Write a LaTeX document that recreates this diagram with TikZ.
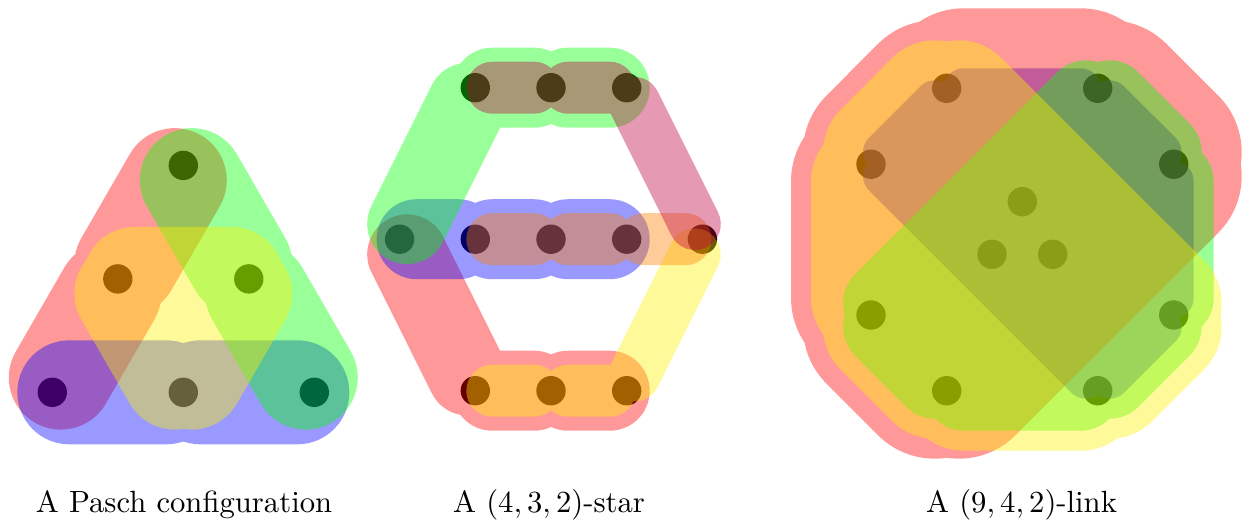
\documentclass[tikz,border=0pt]{standalone}
\usetikzlibrary{calc}
\begin{document}
\begin{tikzpicture}[x=0.326pt,y=-0.326pt,
  dot/.style={circle,fill=black,inner sep=0pt,minimum size=9.58pt},
  full/.style={opacity=1},
  seg/.style={line width={#1*0.652pt},line cap=round,shorten <=5.54pt,shorten >=5.54pt,opacity=1},
  hedge/.style={transparency group,opacity=0.4},
  lab/.style={anchor=base,inner sep=0pt,font=\fontsize{10}{12}\selectfont}]
\useasboundingbox (0,0) rectangle (1252,522);

% ---------- Pasch configuration: vertices ----------
\node[dot] (pT)  at (183.3,165.4) {};
\node[dot] (pML) at (117.8,278.9) {};
\node[dot] (pMR) at (248.8,278.9) {};
\node[dot] (pBL) at (52.3,392.3) {};
\node[dot] (pBM) at (183.3,392.3) {};
\node[dot] (pBR) at (314.3,392.3) {};

% ---------- (4,3,2)-star: vertices ----------
\node[dot] (sT1) at (475.3,87.7) {};
\node[dot] (sT2) at (551.0,87.7) {};
\node[dot] (sT3) at (626.7,87.7) {};
\node[dot] (sM0) at (399.6,239.2) {};
\node[dot] (sM1) at (475.3,239.2) {};
\node[dot] (sM2) at (551.0,239.2) {};
\node[dot] (sM3) at (626.7,239.2) {};
\node[dot] (sM4) at (702.4,239.2) {};
\node[dot] (sB1) at (475.3,390.7) {};
\node[dot] (sB2) at (551.0,390.7) {};
\node[dot] (sB3) at (626.7,390.7) {};

% ---------- (9,4,2)-link: vertices ----------
\node[dot] (lA) at (946.7,88.3) {};
\node[dot] (lB) at (1097.7,88.3) {};
\node[dot] (lC) at (1173.7,164.2) {};
\node[dot] (lD) at (1173.7,315.0) {};
\node[dot] (lE) at (1097.7,390.7) {};
\node[dot] (lF) at (946.7,390.7) {};
\node[dot] (lG) at (871.0,315.0) {};
\node[dot] (lH) at (871.0,164.2) {};
\node[dot] (lI1) at (1022.3,201.7) {};
\node[dot] (lI2) at (992.0,254.3) {};
\node[dot] (lI3) at (1052.7,254.3) {};

% ---------- Pasch edges ----------
\begin{scope}[hedge]
  \path (0,0) rectangle (1252,522);
  \foreach \a/\b in {pBL/pML,pML/pT} \draw[red,seg=52] (\a.center) -- (\b.center);
\end{scope}
\begin{scope}[hedge]
  \path (0,0) rectangle (1252,522);
  \foreach \a/\b in {pBL/pBM,pBM/pBR} \draw[blue,seg=52] (\a.center) -- (\b.center);
\end{scope}
\begin{scope}[hedge]
  \path (0,0) rectangle (1252,522);
  \foreach \a/\b in {pT/pMR,pMR/pBR} \draw[green,seg=52] (\a.center) -- (\b.center);
\end{scope}
\begin{scope}[hedge]
  \path (0,0) rectangle (1252,522);
  \fill[yellow,full] (pML.center) -- (pMR.center) -- (pBM.center) -- cycle;
  \foreach \a/\b in {pML/pMR,pMR/pBM,pBM/pML} \draw[yellow,seg=52] (\a.center) -- (\b.center);
\end{scope}

% ---------- star edges ----------
\begin{scope}[hedge]
  \path (0,0) rectangle (1252,522);
  \foreach \a/\b in {sM0/sB1,sB1/sB2,sB2/sB3} \draw[red,seg=40] (\a.center) -- (\b.center);
\end{scope}
\begin{scope}[hedge]
  \path (0,0) rectangle (1252,522);
  \foreach \a/\b in {sM0/sM1,sM1/sM2,sM2/sM3} \draw[blue,seg=40] (\a.center) -- (\b.center);
\end{scope}
\begin{scope}[hedge]
  \path (0,0) rectangle (1252,522);
  \foreach \a/\b in {sM0/sT1,sT1/sT2,sT2/sT3} \draw[green,seg=40] (\a.center) -- (\b.center);
\end{scope}
\begin{scope}[hedge]
  \path (0,0) rectangle (1252,522);
  \foreach \a/\b in {sB1/sB2,sB2/sB3,sB3/sM4} \draw[yellow,seg=26] (\a.center) -- (\b.center);
\end{scope}
\begin{scope}[hedge]
  \path (0,0) rectangle (1252,522);
  \foreach \a/\b in {sM1/sM2,sM2/sM3,sM3/sM4} \draw[orange,seg=26] (\a.center) -- (\b.center);
\end{scope}
\begin{scope}[hedge]
  \path (0,0) rectangle (1252,522);
  \foreach \a/\b in {sT1/sT2,sT2/sT3,sT3/sM4} \draw[purple,seg=26] (\a.center) -- (\b.center);
\end{scope}

% ---------- link edges ----------
\begin{scope}[hedge]
  \path (0,0) rectangle (1252,522);
  \fill[blue,full] (lA.center) -- (lB.center) -- (lC.center) -- (lD.center) -- (lE.center) -- (lH.center) -- cycle;
  \foreach \a/\b in {lA/lB,lB/lC,lC/lD,lD/lE,lE/lH,lH/lA} \draw[blue,seg=20] (\a.center) -- (\b.center);
\end{scope}
\begin{scope}[hedge]
  \path (0,0) rectangle (1252,522);
  \fill[red,full] (lA.center) -- (lB.center) -- (lC.center) -- (lF.center) -- (lG.center) -- (lH.center) -- cycle;
  \foreach \a/\b in {lA/lB,lB/lC,lC/lF,lF/lG,lG/lH,lH/lA} \draw[red,seg=80] (\a.center) -- (\b.center);
\end{scope}
\begin{scope}[hedge]
  \path (0,0) rectangle (1252,522);
  \fill[green,full] (lB.center) -- (lC.center) -- (lD.center) -- (lE.center) -- (lF.center) -- (lG.center) -- cycle;
  \foreach \a/\b in {lB/lC,lC/lD,lD/lE,lE/lF,lF/lG,lG/lB} \draw[green,seg=40] (\a.center) -- (\b.center);
\end{scope}
\begin{scope}[hedge]
  \path (0,0) rectangle (1252,522);
  \fill[yellow,full] (lA.center) -- (lD.center) -- (lE.center) -- (lF.center) -- (lG.center) -- (lH.center) -- cycle;
  \foreach \a/\b in {lA/lD,lD/lE,lE/lF,lF/lG,lG/lH,lH/lA} \draw[yellow,seg=60] (\a.center) -- (\b.center);
\end{scope}

% ---------- labels ----------
\node[lab] (labP) at (184,512) {A Pasch configuration};
\node[lab] (labS) at (549,512) {A $(4,3,2)$-star};
\node[lab] (labL) at (1021.5,512) {A $(9,4,2)$-link};
\end{tikzpicture}
\end{document}
